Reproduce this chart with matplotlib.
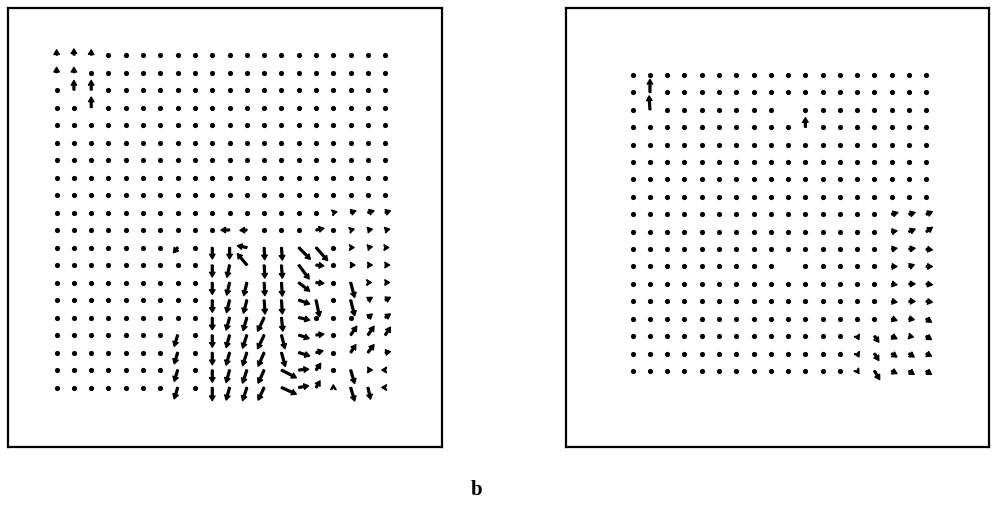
import numpy as np
import matplotlib
matplotlib.use("Agg")
import matplotlib.pyplot as plt

nan = np.nan
Z20 = [0] * 20
Z18 = [0] * 18

# Left field (20 x 20 grid). u: rightward, v: downward, in grid spacings.
left_u = [
    Z20, Z20, Z20, Z20, Z20, Z20, Z20, Z20, Z20,
    [0, 0, 0, 0, 0, 0, 0, 0, 0, 0, 0, 0, 0, 0, 0, 0, .2, .3, .35, .3],
    [0, 0, 0, 0, 0, 0, 0, 0, 0, 0, -.5, -.4, 0, 0, 0, .45, 0, .2, .25, .25],
    [0, 0, 0, 0, 0, 0, 0, -.25, 0, 0, 0, -.55, .03, .05, .67, .67, 0, .2, .25, .2],
    [0, 0, 0, 0, 0, 0, 0, 0, 0, 0, -.15, -.55, .04, .05, .6, .45, 0, .25, .25, .25],
    [0, 0, 0, 0, 0, 0, 0, 0, 0, 0, -.17, -.18, .04, .05, .63, .45, 0, .23, .2, .25],
    [0, 0, 0, 0, 0, 0, 0, 0, 0, 0, -.18, -.2, .05, .05, .63, .2, 0, .23, .25, .3],
    [0, 0, 0, 0, 0, 0, 0, 0, 0, 0, -.2, -.22, -.38, .08, .63, 0, 0, 0, .25, .3],
    [0, 0, 0, 0, 0, 0, 0, -.2, 0, 0, -.2, -.25, -.38, .2, .6, .45, 0, .35, .35, .3],
    [0, 0, 0, 0, 0, 0, 0, -.2, 0, 0, -.2, -.25, -.35, .22, .63, .4, 0, .3, .35, .3],
    [0, 0, 0, 0, 0, 0, 0, -.2, 0, 0, -.2, -.25, -.35, .86, .57, .27, 0, .23, .25, -.2],
    [0, 0, 0, 0, 0, 0, 0, -.2, 0, 0, -.2, -.25, -.35, .86, .57, .23, 0, .23, .15, -.2],
]
left_v = [
    [-.3, -.35, -.3, 0, 0, 0, 0, 0, 0, 0, 0, 0, 0, 0, 0, 0, 0, 0, 0, 0],
    [-.3, -.3, 0, 0, 0, 0, 0, 0, 0, 0, 0, 0, 0, 0, 0, 0, 0, 0, 0, 0],
    [0, -.55, -.55, 0, 0, 0, 0, 0, 0, 0, 0, 0, 0, 0, 0, 0, 0, 0, 0, 0],
    [0, 0, -.6, 0, 0, 0, 0, 0, 0, 0, 0, 0, 0, 0, 0, 0, 0, 0, 0, 0],
    Z20, Z20, Z20, Z20, Z20,
    [0, 0, 0, 0, 0, 0, 0, 0, 0, 0, 0, 0, 0, 0, 0, 0, -.05, -.1, -.1, -.1],
    [0, 0, 0, 0, 0, 0, 0, 0, 0, 0, 0, .02, 0, 0, 0, -.1, 0, -.05, -.05, -.05],
    [0, 0, 0, 0, 0, 0, 0, .3, 0, .65, .65, -.1, .7, .72, .67, .75, 0, 0, -.05, 0],
    [0, 0, 0, 0, 0, 0, 0, 0, 0, .68, .7, -.65, .75, .75, .8, .05, 0, 0, 0, 0],
    [0, 0, 0, 0, 0, 0, 0, 0, 0, .68, .72, .75, .75, .78, .5, .05, 0, .85, 0, 0],
    [0, 0, 0, 0, 0, 0, 0, 0, 0, .7, .72, .75, .8, .8, .23, .95, 0, .9, -.15, -.15],
    [0, 0, 0, 0, 0, 0, 0, 0, 0, .7, .72, .75, .78, .78, .15, 0, 0, 0, -.2, -.2],
    [0, 0, 0, 0, 0, 0, 0, .65, 0, .7, .72, .75, .78, .78, .2, -.05, 0, -.5, -.5, -.45],
    [0, 0, 0, 0, 0, 0, 0, .65, 0, .7, .72, .75, .78, .8, .2, -.1, 0, -.45, -.45, -.05],
    [0, 0, 0, 0, 0, 0, 0, .65, 0, .7, .72, .75, .75, .44, -.05, -.38, 0, .77, 0, 0],
    [0, 0, 0, 0, 0, 0, 0, .65, 0, .75, .72, .75, .72, .38, -.1, -.38, -.15, .77, .67, 0],
]

# Right field (18 x 18 grid); nan = no vector drawn.
right_u = [
    Z18, Z18,
    [0, -.05, 0, 0, 0, 0, 0, 0, 0, nan, 0, 0, 0, 0, 0, 0, 0, 0],
    Z18, Z18, Z18, Z18, Z18,
    [0, 0, 0, 0, 0, 0, 0, 0, 0, 0, 0, 0, 0, 0, 0, .35, .35, .35],
    [0, 0, 0, 0, 0, 0, 0, 0, 0, 0, 0, 0, 0, 0, 0, .3, .35, .35],
    [0, 0, 0, 0, 0, 0, 0, 0, 0, 0, 0, 0, 0, 0, 0, .3, .35, .35],
    [0, 0, 0, 0, 0, 0, 0, 0, 0, nan, 0, 0, 0, 0, 0, .3, .3, .35],
    [0, 0, 0, 0, 0, 0, 0, 0, 0, 0, 0, 0, 0, 0, 0, .3, .35, .35],
    [0, 0, 0, 0, 0, 0, 0, 0, 0, 0, 0, 0, 0, 0, 0, .3, .35, .35],
    [0, 0, 0, 0, 0, 0, 0, 0, 0, 0, 0, 0, 0, 0, 0, .3, .3, .3],
    [0, 0, 0, 0, 0, 0, 0, 0, 0, 0, 0, 0, 0, .1, .25, .3, .25, .3],
    [0, 0, 0, 0, 0, 0, 0, 0, 0, 0, 0, 0, 0, .1, .25, .3, .3, .3],
    [0, 0, 0, 0, 0, 0, 0, 0, 0, 0, 0, 0, 0, .1, .3, .3, .3, .3],
]
right_v = [
    Z18,
    [0, -.75, 0, 0, 0, 0, 0, 0, 0, 0, 0, 0, 0, 0, 0, 0, 0, 0],
    [0, -.8, 0, 0, 0, 0, 0, 0, 0, nan, 0, 0, 0, 0, 0, 0, 0, 0],
    [0, 0, 0, 0, 0, 0, 0, 0, 0, 0, -.55, 0, 0, 0, 0, 0, 0, 0],
    Z18, Z18, Z18, Z18,
    [0, 0, 0, 0, 0, 0, 0, 0, 0, 0, 0, 0, 0, 0, 0, -.1, -.1, -.15],
    [0, 0, 0, 0, 0, 0, 0, 0, 0, 0, 0, 0, 0, 0, 0, -.05, -.15, -.25],
    [0, 0, 0, 0, 0, 0, 0, 0, 0, 0, 0, 0, 0, 0, 0, -.05, -.05, .05],
    [0, 0, 0, 0, 0, 0, 0, 0, 0, nan, 0, 0, 0, 0, 0, 0, -.1, 0],
    [0, 0, 0, 0, 0, 0, 0, 0, 0, 0, 0, 0, 0, 0, 0, .05, 0, .05],
    [0, 0, 0, 0, 0, 0, 0, 0, 0, 0, 0, 0, 0, 0, 0, .05, 0, .05],
    [0, 0, 0, 0, 0, 0, 0, 0, 0, 0, 0, 0, 0, 0, 0, .1, .05, .2],
    [0, 0, 0, 0, 0, 0, 0, 0, 0, 0, 0, 0, 0, .2, .35, .15, .05, .2],
    [0, 0, 0, 0, 0, 0, 0, 0, 0, 0, 0, 0, 0, .2, .4, .2, .2, .15],
    [0, 0, 0, 0, 0, 0, 0, 0, 0, 0, 0, 0, 0, .15, .5, .15, .2, .2],
]

panel_label = "b"

W, H = 992, 507
fig = plt.figure(figsize=(W / 100, H / 100), dpi=100)
axL = fig.add_axes([8 / W, 1 - 447 / H, 434 / W, 439 / H])
axR = fig.add_axes([566 / W, 1 - 447 / H, 423 / W, 439 / H])

specs = [
    (axL, left_u, left_v, (-2.81, 22.28), (22.4, -2.69)),
    (axR, right_u, right_v, (-3.86, 20.63), (21.37, -3.85)),
]
for ax, U, V, xl, yl in specs:
    U = np.array(U, dtype=float)
    V = np.array(V, dtype=float)
    n = U.shape[0]
    X, Y = np.meshgrid(np.arange(n), np.arange(n))
    still = (U == 0) & (V == 0)
    moving = np.isfinite(U) & np.isfinite(V) & ~still
    # zero-flow points drawn as dots
    ax.scatter(X[still], Y[still], s=14, marker='o', color='black',
               linewidths=0)
    q = ax.quiver(X[moving], Y[moving], U[moving], V[moving],
                  angles='xy', scale_units='xy', scale=1,
                  pivot='tail', units='dots', width=1.8,
                  headwidth=3.0, headlength=2.6, headaxislength=2.3,
                  minlength=0.3, minshaft=0.3, color='black',
                  edgecolor='black', linewidth=1.0)
    q.set_joinstyle('round')
    ax.set_xlim(*xl)
    ax.set_ylim(*yl)
    ax.set_xticks([])
    ax.set_yticks([])
    for s in ax.spines.values():
        s.set_linewidth(1.6)
        s.set_color('black')

fig.text(477 / W, 1 - 490 / H, panel_label, ha='center', va='center',
         fontsize=15, family='Liberation Serif', weight='bold')

fig.savefig('out.png', dpi=100)
